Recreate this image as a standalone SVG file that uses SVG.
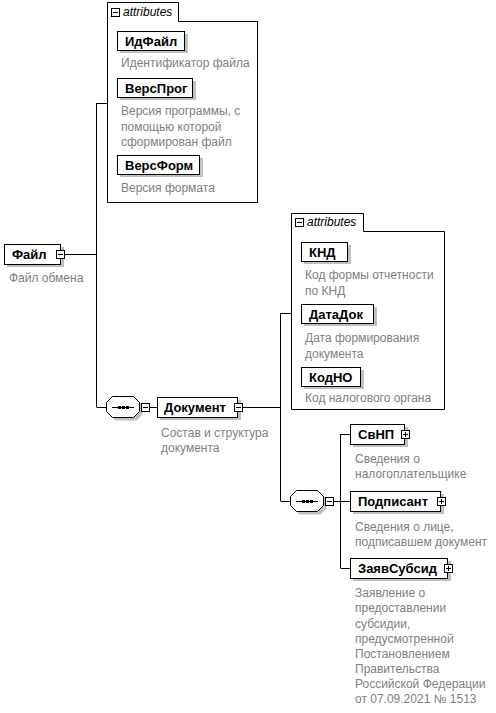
<svg xmlns="http://www.w3.org/2000/svg" xmlns:xlink="http://www.w3.org/1999/xlink" width="496" height="713" viewBox="0 0 496 713">
<style>
.box{fill:#fff;stroke:#000;stroke-width:1}
.sh{fill:#c0c0c0;stroke:none}
.nm{font-family:"Liberation Sans",Arial,sans-serif;font-weight:bold;font-size:13px;fill:#000}
.ds{font-family:"Liberation Sans",Arial,sans-serif;font-size:12px;fill:#808080}
.at{font-family:"Liberation Sans",Arial,sans-serif;font-style:italic;font-size:12px;fill:#000}
.ln{stroke:#000;stroke-width:1;fill:none}
</style>
<defs>
<g id="mi"><rect x="0.5" y="0.5" width="8" height="8" fill="#fff" stroke="#000"/><path d="M2 4.5h5" stroke="#000"/></g>
<g id="pl"><rect x="0.5" y="0.5" width="8" height="8" fill="#fff" stroke="#000"/><path d="M2 4.5h5M4.5 2v5" stroke="#000"/></g>
<path id="oct" d="M6.5,0.5 H27.5 L33.5,6.5 V15.5 L27.5,21.5 H6.5 L0.5,15.5 V6.5 Z"/>
<g id="seq">
<use xlink:href="#oct" transform="translate(3,3)" class="sh"/>
<use xlink:href="#oct" class="box"/>
<path d="M6 11.5H28" class="ln"/>
<rect x="12" y="10" width="3" height="3" fill="#000"/>
<rect x="16" y="10" width="3" height="3" fill="#000"/>
<rect x="20" y="10" width="3" height="3" fill="#000"/>
</g>
</defs>

<g id="connectors" class="ln">
<path d="M65 254.5H96.5"/>
<path d="M96.5 103V407"/>
<path d="M96.5 103.5H107"/>
<path d="M96.5 407.5H106"/>
<path d="M150 407.5H157"/>
<path d="M243 407.5H280.5"/>
<path d="M280.5 313V501"/>
<path d="M280.5 313.5H291"/>
<path d="M280.5 501.5H290"/>
<path d="M334 501.5H340.5"/>
<path d="M340.5 434V568"/>
<path d="M340.5 434.5H350"/>
<path d="M340.5 501.5H350"/>
<path d="M340.5 568.5H350"/>
</g>

<g id="Файл">
<rect x="7" y="247" width="57" height="20" class="sh"/>
<rect x="4.5" y="244.5" width="56" height="20" class="box"/>
<text x="12" y="259" class="nm">Файл</text>
<use xlink:href="#mi" x="56" y="250"/>
<text x="9" y="282" class="ds">Файл обмена</text>
</g>

<g id="attributes1">
<path d="M107.5,2.5 H178.5 V21.5 H257.5 V202.5 H107.5 Z" class="box"/>
<use xlink:href="#mi" x="111" y="8"/>
<text x="123" y="16" class="at">attributes</text>
</g>
<g id="ИдФайл">
<rect x="120" y="34" width="68" height="19" class="sh"/>
<rect x="117.5" y="31.5" width="67" height="19" class="box"/>
<text x="125" y="46" class="nm">ИдФайл</text>
<text x="121" y="67" class="ds">Идентификатор файла</text>
</g>
<g id="ВерсПрог">
<rect x="120" y="81" width="76" height="19" class="sh"/>
<rect x="117.5" y="78.5" width="75" height="19" class="box"/>
<text x="125" y="93" class="ds" style="fill:#000;font-weight:bold;font-size:13px">ВерсПрог</text>
<text class="ds"><tspan x="121" y="115">Версия программы, с</tspan><tspan x="121" y="130.5">помощью которой</tspan><tspan x="121" y="146">сформирован файл</tspan></text>
</g>
<g id="ВерсФорм">
<rect x="120" y="158" width="83" height="19" class="sh"/>
<rect x="117.5" y="155.5" width="82" height="19" class="box"/>
<text x="125" y="170" class="nm">ВерсФорм</text>
<text x="121" y="192" class="ds">Версия формата</text>
</g>

<g id="seq1">
<use xlink:href="#seq" x="106" y="396"/>
<use xlink:href="#mi" x="141" y="403"/>
</g>

<g id="Документ">
<rect x="160" y="400" width="81" height="20" class="sh"/>
<rect x="157.5" y="397.5" width="80" height="20" class="box"/>
<text x="164" y="412" class="nm">Документ</text>
<use xlink:href="#mi" x="234" y="403"/>
<text class="ds"><tspan x="161" y="437">Состав и структура</tspan><tspan x="161" y="452">документа</tspan></text>
</g>

<g id="attributes2">
<path d="M291.5,213.5 H363.5 V231.5 H444.5 V409.5 H291.5 Z" class="box"/>
<use xlink:href="#mi" x="295" y="218"/>
<text x="307" y="226" class="at">attributes</text>
</g>
<g id="КНД">
<rect x="304" y="245" width="47" height="19" class="sh"/>
<rect x="301.5" y="242.5" width="46" height="19" class="box"/>
<text x="309" y="257" class="nm">КНД</text>
<text class="ds"><tspan x="305" y="279">Код формы отчетности</tspan><tspan x="305" y="294.5">по КНД</tspan></text>
</g>
<g id="ДатаДок">
<rect x="304" y="307" width="73" height="19" class="sh"/>
<rect x="301.5" y="304.5" width="72" height="19" class="box"/>
<text x="309" y="319" class="nm">ДатаДок</text>
<text class="ds"><tspan x="305" y="342">Дата формирования</tspan><tspan x="305" y="357.5">документа</tspan></text>
</g>
<g id="КодНО">
<rect x="304" y="370" width="60" height="19" class="sh"/>
<rect x="301.5" y="367.5" width="59" height="19" class="box"/>
<text x="309" y="382" class="nm">КодНО</text>
<text x="305" y="402" class="ds">Код налогового органа</text>
</g>

<g id="seq2">
<use xlink:href="#seq" x="290" y="490"/>
<use xlink:href="#mi" x="325" y="497"/>
</g>

<g id="СвНП">
<rect x="353" y="427" width="55" height="20" class="sh"/>
<rect x="350.5" y="424.5" width="54" height="20" class="box"/>
<text x="358" y="439" class="nm">СвНП</text>
<use xlink:href="#pl" x="401" y="430"/>
<text class="ds"><tspan x="355" y="463">Сведения о</tspan><tspan x="355" y="478">налогоплательщике</tspan></text>
</g>
<g id="Подписант">
<rect x="353" y="494" width="91" height="20" class="sh"/>
<rect x="350.5" y="491.5" width="90" height="20" class="box"/>
<text x="358" y="506" class="nm">Подписант</text>
<use xlink:href="#pl" x="437" y="497"/>
<text class="ds"><tspan x="355" y="531">Сведения о лице,</tspan><tspan x="355" y="546">подписавшем документ</tspan></text>
</g>
<g id="ЗаявСубсид">
<rect x="353" y="561" width="98" height="20" class="sh"/>
<rect x="350.5" y="558.5" width="97" height="20" class="box"/>
<text x="358" y="573" class="nm">ЗаявСубсид</text>
<use xlink:href="#pl" x="444" y="564"/>
<text class="ds"><tspan x="355" y="597">Заявление о</tspan><tspan x="355" y="612">предоставлении</tspan><tspan x="355" y="627.5">субсидии,</tspan><tspan x="355" y="642.5">предусмотренной</tspan><tspan x="355" y="658">Постановлением</tspan><tspan x="355" y="673">Правительства</tspan><tspan x="355" y="688">Российской Федерации</tspan><tspan x="355" y="703">от 07.09.2021 № 1513</tspan></text>
</g>
</svg>
